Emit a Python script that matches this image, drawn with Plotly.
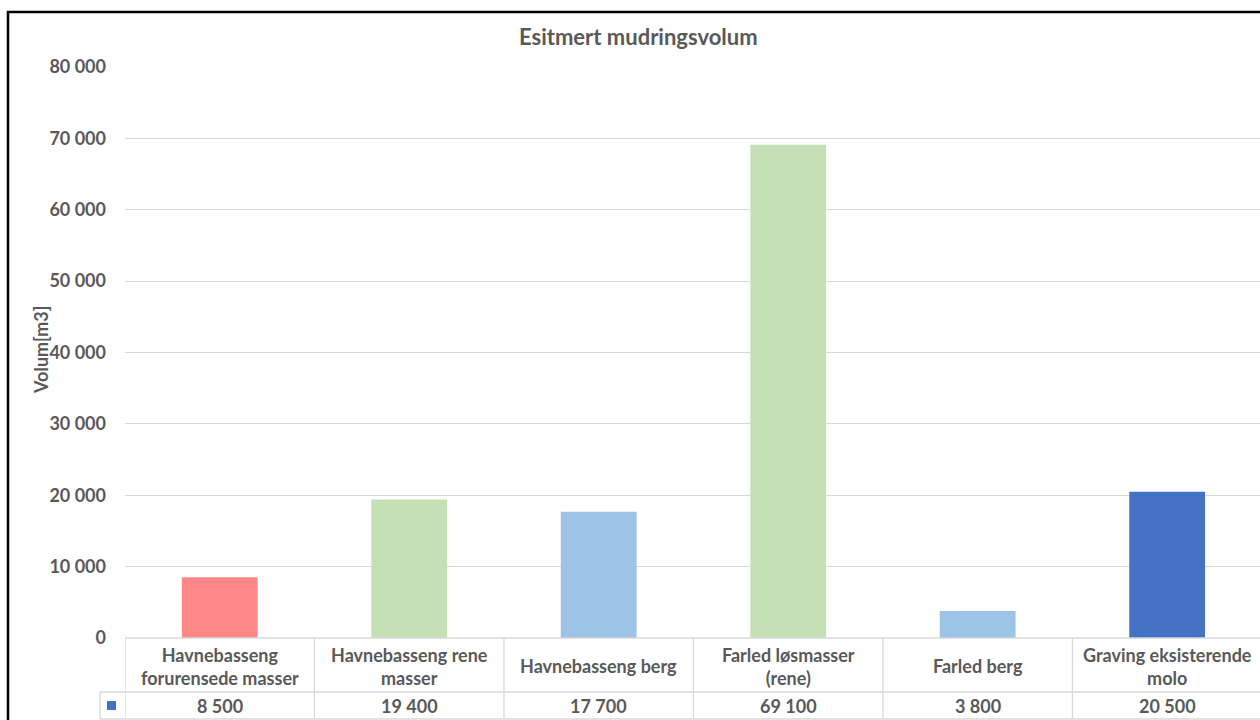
import plotly.graph_objects as go

# Data
categories = [
    "Havnebasseng<br>forurensede masser",
    "Havnebasseng rene<br>masser",
    "Havnebasseng berg",
    "Farled løsmasser<br>(rene)",
    "Farled berg",
    "Graving eksisterende<br>molo",
]
volumes = [8500, 19400, 17700, 69100, 3800, 20500]
bar_colors = ["#FF8787", "#C5E0B4", "#9DC3E6", "#C5E0B4", "#9DC3E6", "#4472C4"]
y_ticks = [0, 10000, 20000, 30000, 40000, 50000, 60000, 70000, 80000]

W, H = 1260, 720
L, R, T, B = 125, 0, 67, 82
PW = W - L - R
PH = H - T - B

FONT = "Lato, 'Open Sans', sans-serif"
GRAY = "#595959"
LINE = "#D9D9D9"


def fmt(v):
    return f"{v:,}".replace(",", " ")


def px_x(px):
    return (px - L) / PW


def px_y(py):
    return (H - B - py) / PH


x_idx = list(range(len(categories)))

fig = go.Figure()
fig.add_trace(go.Bar(
    x=x_idx, y=volumes, width=0.4,
    marker=dict(color=bar_colors, line=dict(width=0)),
    hoverinfo="skip", showlegend=False,
))

shapes = []
annotations = []

# Data table under the plot
row1_top, row1_bot, row2_bot = 638, 692, 719
shapes.append(dict(type="line", xref="paper", yref="paper",
                   x0=px_x(125), x1=1.02, y0=px_y(row1_top), y1=px_y(row1_top),
                   line=dict(color=LINE, width=1.3)))
shapes.append(dict(type="line", xref="paper", yref="paper",
                   x0=px_x(100), x1=1.02, y0=px_y(row1_bot), y1=px_y(row1_bot),
                   line=dict(color=LINE, width=1.3)))
shapes.append(dict(type="line", xref="paper", yref="paper",
                   x0=px_x(100), x1=1.02, y0=px_y(row2_bot), y1=px_y(row2_bot),
                   line=dict(color=LINE, width=1.3)))
shapes.append(dict(type="line", xref="paper", yref="paper",
                   x0=px_x(100), x1=px_x(100), y0=px_y(row1_bot), y1=px_y(row2_bot),
                   line=dict(color=LINE, width=1.3)))
for i in range(len(categories) + 1):
    shapes.append(dict(type="line", xref="x", yref="paper",
                       x0=i - 0.5, x1=i - 0.5, y0=px_y(row1_top), y1=px_y(row2_bot),
                       line=dict(color=LINE, width=1.3)))

# Legend key in the table
shapes.append(dict(type="rect", xref="paper", yref="paper",
                   x0=px_x(107), x1=px_x(116), y0=px_y(710), y1=px_y(701),
                   fillcolor="#4472C4", line=dict(width=0)))

TXT = dict(showarrow=False, xanchor="center", yanchor="middle")

for i, (c, v) in enumerate(zip(categories, volumes)):
    annotations.append(dict(x=i, y=px_y((row1_top + row1_bot) / 2 + 1), xref="x", yref="paper",
                            text=c, align="center",
                            font=dict(family=FONT, size=18, color=GRAY, weight="bold"), **TXT))
    annotations.append(dict(x=i, y=px_y(706), xref="x", yref="paper",
                            text=fmt(v),
                            font=dict(family=FONT, size=18, color=GRAY, weight="bold"), **TXT))

# Y axis title
annotations.append(dict(x=px_x(41), y=px_y(350), xref="paper", yref="paper",
                        text="Volum[m3]", textangle=-90,
                        font=dict(family=FONT, size=18, color=GRAY, weight="bold"), **TXT))

# Chart title
annotations.append(dict(x=px_x(638), y=px_y(36), xref="paper", yref="paper",
                        text="Esitmert mudringsvolum",
                        font=dict(family=FONT, size=22, color=GRAY, weight="bold"), **TXT))

# Outer frame
shapes.append(dict(type="rect", xref="paper", yref="paper",
                   x0=px_x(8), x1=px_x(1300), y0=px_y(760), y1=px_y(12),
                   line=dict(color="#000000", width=2.5), fillcolor="rgba(0,0,0,0)"))

fig.update_layout(
    width=W, height=H,
    margin=dict(l=L, r=R, t=T, b=B),
    paper_bgcolor="white", plot_bgcolor="white",
    bargap=0.6,
    xaxis=dict(range=[-0.5, len(categories) - 0.51], showticklabels=False,
               showgrid=False, zeroline=False, showline=False, fixedrange=True),
    yaxis=dict(range=[0, 80000], tickvals=y_ticks, ticktext=[fmt(t) for t in y_ticks],
               showgrid=True, gridcolor=LINE, gridwidth=1.3, zeroline=False,
               showline=False, ticks="", ticklabelstandoff=18,
               tickfont=dict(family=FONT, size=18, color=GRAY, weight="bold")),
    shapes=shapes,
    annotations=annotations,
    showlegend=False,
)

fig.write_html("out.html")
